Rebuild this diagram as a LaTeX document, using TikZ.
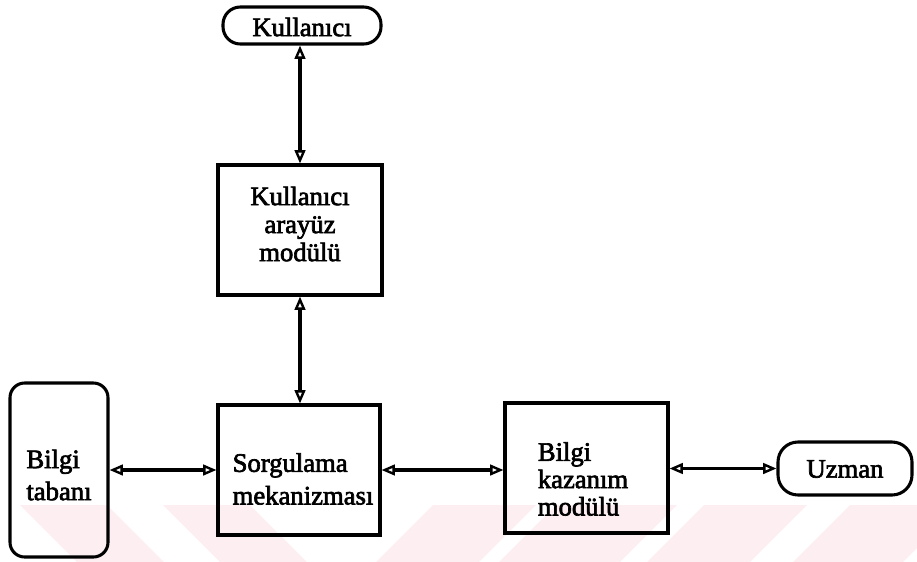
\documentclass[tikz,border=0pt]{standalone}
\usepackage{fontspec}
\newfontfamily\boxfont{Liberation Serif}[FakeBold=2.5]
\usetikzlibrary{arrows.meta}
\definecolor{wmpink}{RGB}{253,238,241}
\begin{document}
\begin{tikzpicture}[x=0.75pt,y=-0.75pt,
  frame/.style={draw, line width=2.3pt, inner sep=0pt},
  terminal/.style={frame, rounded corners=13pt},
  txt/.style={font=\boxfont\fontsize{20}{23}\selectfont, inner sep=0pt},
  tip/.style={},
  conn/.style={line width=2.3pt,
    {Triangle[open,length=10pt,width=8pt,line width=1.8pt]}-{Triangle[open,length=10pt,width=8pt,line width=1.8pt]}},
  wm/.style={fill=wmpink, draw=none}]
\useasboundingbox (0,0) rectangle (917,561);

% diagonal stripes along the bottom edge
\begin{scope}
  \clip (0,0) rectangle (917,561);
  \fill[wm] (20,505) -- (107,505) -- (172,570) -- (85,570) -- cycle;
  \fill[wm] (163,505) -- (250,505) -- (315,570) -- (228,570) -- cycle;
  \fill[wm] (433,505) -- (536,505) -- (471,570) -- (368,570) -- cycle;
  \fill[wm] (556,505) -- (677,505) -- (612,570) -- (491,570) -- cycle;
  \fill[wm] (704,505) -- (807,505) -- (742,570) -- (639,570) -- cycle;
  \fill[wm] (850,505) -- (960,505) -- (895,570) -- (785,570) -- cycle;
\end{scope}

% blocks
\node[terminal, minimum width=118.5pt, minimum height=27.75pt] (kul) at (302,25.5) {};
\node[txt] (kultxt) at (302,27) {Kullanıcı};

\node[frame, minimum width=123pt, minimum height=97.5pt] (kam) at (300,230) {};
\node[txt, align=center, font=\boxfont\fontsize{20}{21}\selectfont] (kamtxt) at (300,224) {Kullanıcı\\arayüz\\modülü};

\node[frame, minimum width=121.5pt, minimum height=97.5pt] (sor) at (299,470) {};
\node[txt, align=left, font=\boxfont\fontsize{20}{24.5}\selectfont] (sortxt) at (303,479) {Sorgulama\\mekanizması};

\node[frame, rounded corners=11pt, minimum width=73.5pt, minimum height=130.5pt] (bt) at (59,470) {};
\node[txt, align=left, font=\boxfont\fontsize{20}{24}\selectfont] (bttxt) at (59,475) {Bilgi\\tabanı};

\node[frame, minimum width=122.25pt, minimum height=97.5pt] (bkm) at (586.5,468) {};
\node[txt, align=left, font=\boxfont\fontsize{20}{20.5}\selectfont] (bkmtxt) at (583,479) {Bilgi\\kazanım\\modülü};

\node[terminal, rounded corners=15pt, minimum width=100.5pt, minimum height=39.75pt] (uz) at (845,468.5) {};
\node[txt] (uztxt) at (845,469) {Uzman};

% connectors
\draw[conn] (kul.south -| kam.north) -- (kam.north);
\draw[conn] (kam.south) -- (sor.north -| kam.south);
\draw[conn] (bt.east) -- (bt.east -| sor.west);
\draw[conn] (sor.east) -- (sor.east -| bkm.west);
\draw[conn] (bkm.east |- uz.west) -- (uz.west);
\end{tikzpicture}
\end{document}
